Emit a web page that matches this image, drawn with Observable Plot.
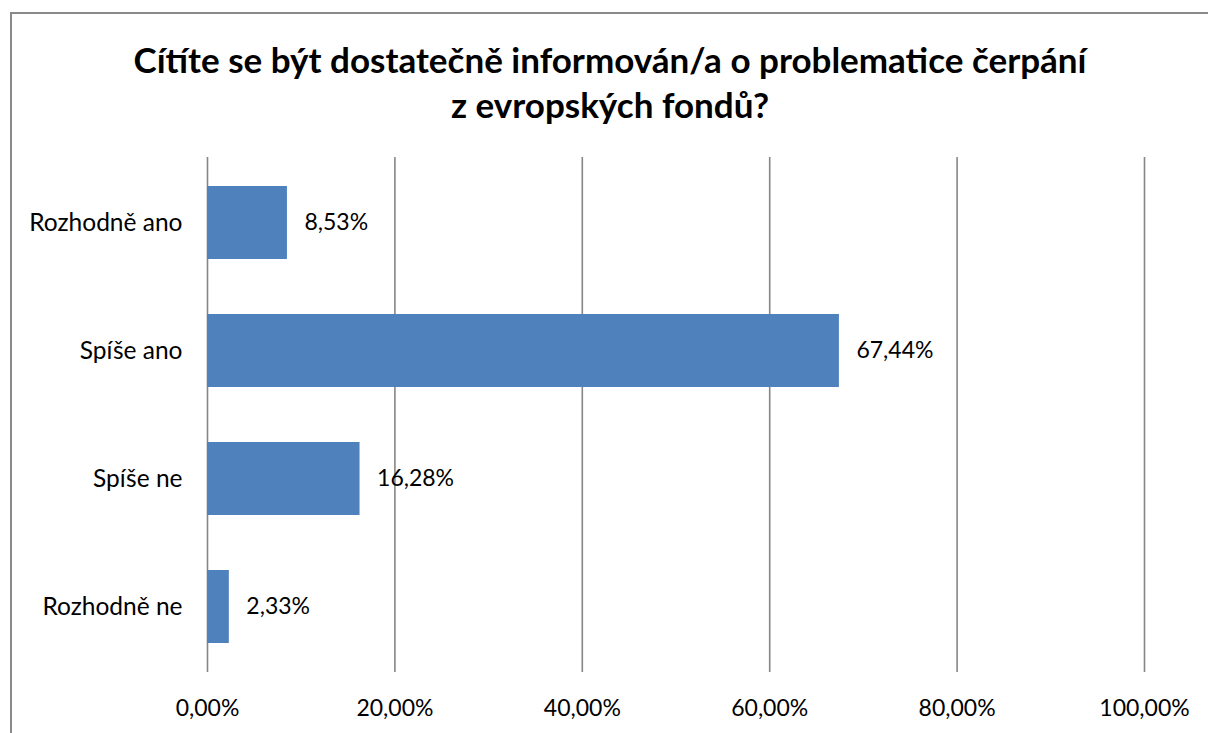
<!DOCTYPE html>
<html><head><meta charset="utf-8">
<script src="https://cdn.jsdelivr.net/npm/d3@7"></script>
<script src="https://cdn.jsdelivr.net/npm/@observablehq/plot@0.6"></script>
<style>
html,body{margin:0;padding:0;background:#fff;overflow:hidden;width:1208px;height:733px;}
#frame{position:absolute;left:10px;top:12px;width:1300px;height:800px;border:2px solid #8a8a8a;box-sizing:border-box;}
#title{position:absolute;left:6px;top:37px;width:1208px;text-align:center;font-family:Lato,sans-serif;font-weight:bold;font-size:35px;line-height:45px;color:#000;}
#chart{position:absolute;left:0;top:140px;}
</style></head>
<body>
<div id="frame"></div>
<div id="title">Cítíte se být dostatečně informován/a o problematice čerpání<br>z evropských fondů?</div>
<div id="chart"></div>
<script>
const categories = ["Rozhodně ano", "Spíše ano", "Spíše ne", "Rozhodně ne"];
const values = [8.53, 67.44, 16.28, 2.33];
const xTicks = [0, 20, 40, 60, 80, 100];

const data = categories.map((c, i) => ({category: c, value: values[i]}));
const fmt = v => v.toFixed(2).replace(".", ",") + "%";
const font = "Lato, sans-serif";

const plot = Plot.plot({
  width: 1208,
  height: 582,
  marginTop: 17,
  marginBottom: 50,
  marginLeft: 207,
  marginRight: 64,
  style: {fontFamily: font, fontSize: "23px", color: "#000", background: "transparent"},
  x: {domain: [0, 100], ticks: xTicks, tickFormat: fmt, label: null},
  y: {domain: categories, paddingInner: 0.43, paddingOuter: 0.215, label: null},
  marks: [
    Plot.ruleX(xTicks, {stroke: "#868686", strokeWidth: 1.6}),
    Plot.barX(data, {y: "category", x: "value", fill: "#4F81BD"}),
    Plot.text(data, {y: "category", x: "value", text: d => fmt(d.value), textAnchor: "start", dx: 17, fontSize: 23, fill: "#000"}),
    Plot.axisX({ticks: xTicks, tickFormat: fmt, tickSize: 0, tickPadding: 27, fontSize: 23, label: null}),
    Plot.axisY({tickSize: 0, tickPadding: 25, fontSize: 24.5, label: null})
  ]
});
document.getElementById("chart").appendChild(plot);
</script>
</body></html>
